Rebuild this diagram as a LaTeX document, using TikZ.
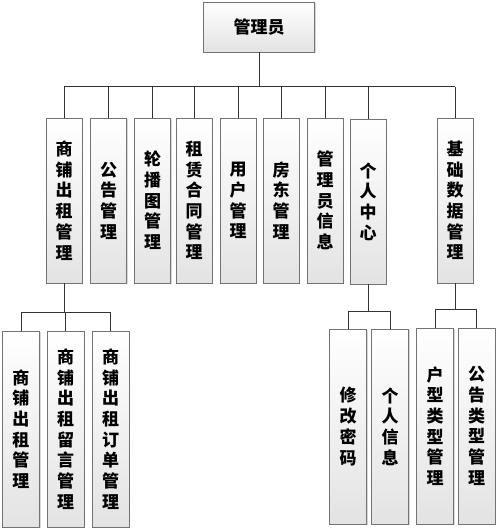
\documentclass[tikz,border=0pt]{standalone}
\usepackage{fontspec}
\newfontfamily\cjk{Noto Sans CJK SC}
\usetikzlibrary{shadows}
\begin{document}
\begin{tikzpicture}[x=1pt,y=-1pt,
  box/.style={draw=gray!90!black, line width=0.8pt, top color=white, bottom color=gray!22,
    drop shadow={shadow xshift=1.3pt, shadow yshift=-1.3pt, fill=gray!60, opacity=0.5},
    inner sep=0pt, align=center, font=\cjk\bfseries\fontsize{17}{20.7}\selectfont},
  mid/.style={box, minimum width=36pt, minimum height=165pt},
  low/.style={box, minimum width=37pt, minimum height=196pt},
  conn/.style={draw=black!80, line width=1pt}]
\useasboundingbox (0,0) rectangle (500,532);
% top
\node[box, minimum width=111pt, minimum height=50pt] (top) at (259,27) {管理员};
% second level
\node[mid] (a1) at (64,200.5) {商\\铺\\出\\租\\管\\理};
\node[mid] (a2) at (108.5,200.5) {公\\告\\管\\理};
\node[mid] (a3) at (152.5,200.5) {轮\\播\\图\\管\\理};
\node[mid] (a4) at (194,200.5) {租\\赁\\合\\同\\管\\理};
\node[mid] (a5) at (238,200.5) {用\\户\\管\\理};
\node[mid] (a6) at (281,200.5) {房\\东\\管\\理};
\node[mid] (a7) at (325,200.5) {管\\理\\员\\信\\息};
\node[mid] (a8) at (368,201.5) {个\\人\\中\\心};
\node[mid] (a9) at (455,200.5) {基\\础\\数\\据\\管\\理};
% third level
\node[low] (b1) at (21,429) {商\\铺\\出\\租\\管\\理};
\node[low] (b2) at (65.5,429) {商\\铺\\出\\租\\留\\言\\管\\理};
\node[low] (b3) at (110.5,429) {商\\铺\\出\\租\\订\\单\\管\\理};
\node[low, minimum height=195pt] (c1) at (348,426.5) {修\\改\\密\\码};
\node[low, minimum height=195pt] (c2) at (390,426.5) {个\\人\\信\\息};
\node[low, minimum height=196pt] (d1) at (435,426) {户\\型\\类\\型\\管\\理};
\node[low, minimum height=196pt] (d2) at (476.5,426) {公\\告\\类\\型\\管\\理};
% connectors top
\coordinate (bus) at (0,87);
\draw[conn] (top.south) -- (top.south |- bus);
\draw[conn] (a1.north |- bus) -- (a9.north |- bus);
\foreach \n in {a1,a2,a3,a4,a5,a6,a7,a8,a9}
  \draw[conn] (\n.north) -- (\n.north |- bus);
% left group
\coordinate (busL) at (0,312);
\draw[conn] (a1.south) -- (a1.south |- busL);
\draw[conn] (b1.north |- busL) -- (b3.north |- busL);
\foreach \n in {b1,b2,b3}
  \draw[conn] (\n.north) -- (\n.north |- busL);
% middle group
\coordinate (busM) at (0,311);
\draw[conn] (a8.south) -- (a8.south |- busM);
\draw[conn] (c1.north |- busM) -- (c2.north |- busM);
\foreach \n in {c1,c2}
  \draw[conn] (\n.north) -- (\n.north |- busM);
% right group
\coordinate (busR) at (0,309);
\draw[conn] (a9.south) -- (a9.south |- busR);
\draw[conn] (d1.north |- busR) -- (d2.north |- busR);
\foreach \n in {d1,d2}
  \draw[conn] (\n.north) -- (\n.north |- busR);
\end{tikzpicture}
\end{document}
